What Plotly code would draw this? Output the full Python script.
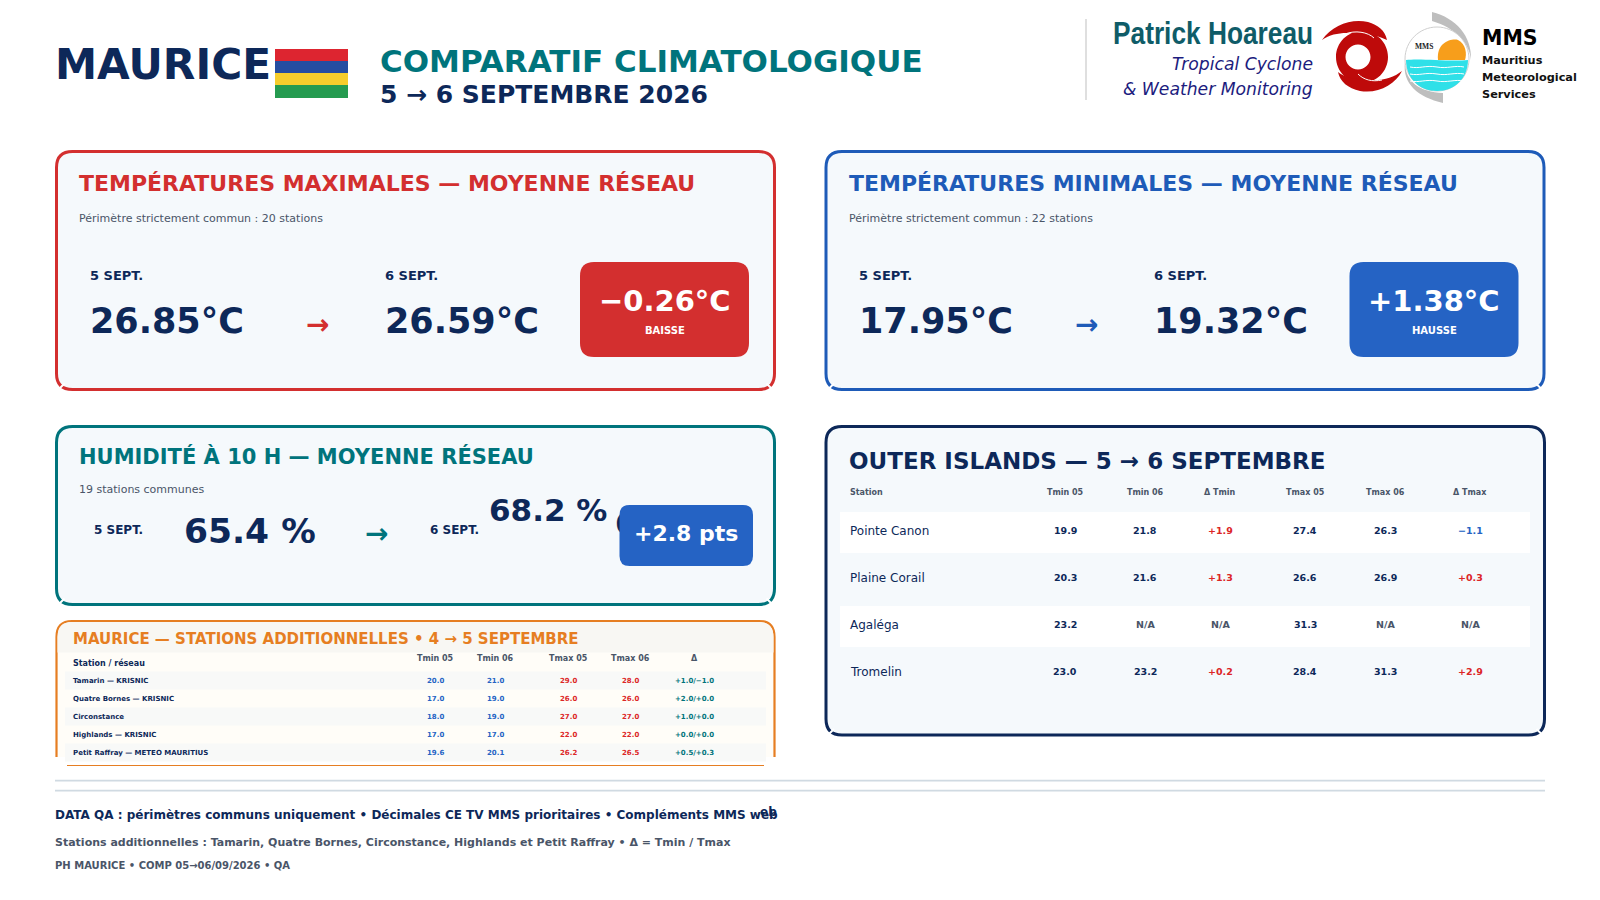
import plotly.graph_objects as go

NAVY = '#0D2859'
TEAL = '#00747C'
RED = '#D32F2F'
BLUE = '#1E5BB8'
BADGE_BLUE = '#2563C4'
ORANGE = '#E67E22'
GREY = '#4A5568'
CARD_BG = '#F5F9FC'
FONT = 'DejaVu Sans'

# header
flag_colors = ['#DD2530', '#254DA1', '#F6CD2C', '#259B50']

# network average cards
tmax_day5, tmax_day6, tmax_delta = '26.85°C', '26.59°C', '−0.26°C'
tmin_day5, tmin_day6, tmin_delta = '17.95°C', '19.32°C', '+1.38°C'
hum_day5, hum_day6, hum_delta = '65.4 %', '68.2 %', '+2.8 pts'

# outer islands table
outer_headers = ['Tmin 05', 'Tmin 06', 'Δ Tmin', 'Tmax 05', 'Tmax 06', 'Δ Tmax']
outer_stations = ['Pointe Canon', 'Plaine Corail', 'Agaléga', 'Tromelin']
outer_tmin05 = ['19.9', '20.3', '23.2', '23.0']
outer_tmin06 = ['21.8', '21.6', 'N/A', '23.2']
outer_dtmin = ['+1.9', '+1.3', 'N/A', '+0.2']
outer_tmax05 = ['27.4', '26.6', '31.3', '28.4']
outer_tmax06 = ['26.3', '26.9', 'N/A', '31.3']
outer_dtmax = ['−1.1', '+0.3', 'N/A', '+2.9']

# additional stations table
add_headers = ['Tmin 05', 'Tmin 06', 'Tmax 05', 'Tmax 06', 'Δ']
add_stations = ['Tamarin — KRISNIC', 'Quatre Bornes — KRISNIC', 'Circonstance',
                'Highlands — KRISNIC', 'Petit Raffray — METEO MAURITIUS']
add_tmin05 = ['20.0', '17.0', '18.0', '17.0', '19.6']
add_tmin06 = ['21.0', '19.0', '19.0', '17.0', '20.1']
add_tmax05 = ['29.0', '26.0', '27.0', '22.0', '26.2']
add_tmax06 = ['28.0', '26.0', '27.0', '22.0', '26.5']
add_delta = ['+1.0/−1.0', '+2.0/+0.0', '+1.0/+0.0', '+0.0/+0.0', '+0.5/+0.3']

fig = go.Figure()


def text(x, y, s, size, color=NAVY, bold=True, anchor='left', family=FONT, italic=False):
    if bold:
        s = '<b>' + s + '</b>'
    if italic:
        s = '<i>' + s + '</i>'
    fig.add_annotation(x=x, y=y, text=s, showarrow=False, xanchor=anchor, yanchor='middle',
                       borderpad=0, font=dict(family=family, size=size, color=color))


def rect(x0, y0, x1, y1, fill, layer='below'):
    fig.add_shape(type='rect', x0=x0, y0=y0, x1=x1, y1=y1, fillcolor=fill,
                  line_width=0, layer=layer)


def round_path(x0, y0, x1, y1, r):
    return (f'M {x0+r} {y0} L {x1-r} {y0} Q {x1} {y0} {x1} {y0+r} L {x1} {y1-r} '
            f'Q {x1} {y1} {x1-r} {y1} L {x0+r} {y1} Q {x0} {y1} {x0} {y1-r} '
            f'L {x0} {y0+r} Q {x0} {y0} {x0+r} {y0} Z')


def circle_path(cx, cy, r, flip=False):
    # four bezier quarters, flip reverses winding so it punches a hole
    k = 0.5523 * r
    s = -1 if flip else 1
    return (f'M {cx+r} {cy} '
            f'C {cx+r} {cy+s*k} {cx+k} {cy+s*r} {cx} {cy+s*r} '
            f'C {cx-k} {cy+s*r} {cx-r} {cy+s*k} {cx-r} {cy} '
            f'C {cx-r} {cy-s*k} {cx-k} {cy-s*r} {cx} {cy-s*r} '
            f'C {cx+k} {cy-s*r} {cx+r} {cy-s*k} {cx+r} {cy} Z')


def path(d, fill=None, line=None, width=0, layer='below'):
    fig.add_shape(type='path', path=d, fillcolor=fill or 'rgba(0,0,0,0)',
                  line=dict(color=line or 'rgba(0,0,0,0)', width=width), layer=layer)


def card(x0, y0, x1, y1, color, r=16):
    path(round_path(x0, y0, x1, y1, r), fill=CARD_BG, line=color, width=3)
    # the source has small breaks in the bottom corners
    for cx, sgn in [(x0 + 6, 1), (x1 - 6, -1)]:
        fig.add_shape(type='line', x0=cx - 4 * sgn, y0=y1 + 0, x1=cx + 2 * sgn, y1=y1 - 6,
                      line=dict(color='white', width=2), layer='below')


def badge(x0, y0, x1, y1, color, r=14):
    path(round_path(x0, y0, x1, y1, r), fill=color, layer='above')


def compare_card(x, color, badge_color, title, sub, v5, v6, delta, word):
    card(x, 151.5, x + 718, 389.5, color)
    text(x + 21.5, 183.5, title, 22, color)
    text(x + 21.5, 218, sub, 11, GREY, bold=False)
    text(x + 32, 275.5, '5 SEPT.', 13)
    text(x + 32, 321, v5, 35)
    text(x + 260.5, 324, '→', 28, color, anchor='center')
    text(x + 327, 275.5, '6 SEPT.', 13)
    text(x + 327, 321, v6, 35)
    badge(x + 523.5, 262, x + 692.5, 357, badge_color)
    text(x + 608, 300.5, delta, 29, 'white', anchor='center')
    text(x + 608, 330, word, 10, 'white', anchor='center')


# header
text(53.5, 64, 'MAURICE', 42.3)
stripe_y = [49, 61, 73, 85, 98]
for i, c in enumerate(flag_colors):
    rect(275, stripe_y[i], 348, stripe_y[i + 1], c)
text(379, 61, 'COMPARATIF CLIMATOLOGIQUE', 31, TEAL)
text(379, 94, '5 → 6 SEPTEMBRE 2026', 25)

# left logo block
fig.add_shape(type='line', x0=1086, y0=19, x1=1086, y1=100, line=dict(color='#D5D5D5', width=1.5), layer='below')
text(1213, 33, 'Patrick Hoareau', 31, '#0F5C68', anchor='center', family='Liberation Sans')
text(1314, 64, 'Tropical Cyclone', 17.2, '#1C1C7E', bold=False, anchor='right', italic=True)
text(1314, 89, '&amp; Weather Monitoring', 17.2, '#1C1C7E', bold=False, anchor='right', italic=True)

# cyclone mark
SWIRL = '#BE0A0A'
path(circle_path(1362, 57, 26) + ' ' + circle_path(1358, 57, 12.5, flip=True), fill=SWIRL)
path('M 1322 40 C 1332 25 1352 18 1368 22 C 1378 25 1385 30 1387 40 '
     'C 1378 36 1368 33 1358 34 C 1345 32 1332 33 1322 40 Z', fill=SWIRL)
path('M 1402 71 C 1395 85 1378 94 1360 91 C 1348 88 1340 82 1338 72 '
     'C 1345 78 1358 80 1365 79 C 1378 82 1392 79 1402 71 Z', fill=SWIRL)
path('M 1345 34 C 1355 30 1368 32 1374 38', line='white', width=1)
path('M 1358 74 C 1364 80 1372 82 1382 80', line='white', width=1)

# MMS mark
path('M 1432 12 C 1456 18 1472 36 1471 60 C 1470 44 1456 28 1432 21 Z', fill='#BEBEBE')
path('M 1405 62 C 1405 82 1420 92 1443 93 L 1443 103 C 1418 97 1402 84 1405 62 Z', fill='#BEBEBE')
path(circle_path(1437, 59, 32), fill='white', line='#CFCFCF', width=1)
path('M 1438 60 C 1436 42 1452 38 1458 40 C 1466 44 1467 54 1465 60 Z', fill='#F79E1B')
path('M 1406 60 C 1420 58 1450 62 1468 60 C 1468 78 1455 91 1437 91 C 1419 91 1406 78 1406 60 Z', fill='#2FE0E8')
for wy in [67, 74, 81]:
    path(f'M 1410 {wy} C 1420 {wy+2} 1425 {wy-2} 1437 {wy} C 1447 {wy+2} 1455 {wy-2} 1464 {wy}',
         line='white', width=1)
text(1414, 46, 'MMS', 7.5, '#222222', family='Liberation Serif')
text(1481, 38, 'MMS', 20.5, '#000000')
text(1481, 60, 'Mauritius', 11.3, '#111111')
text(1481, 77, 'Meteorological', 11.3, '#111111')
text(1481, 94, 'Services', 11.3, '#111111')

# top cards
compare_card(56.5, RED, RED, 'TEMPÉRATURES MAXIMALES — MOYENNE RÉSEAU',
             'Périmètre strictement commun : 20 stations', tmax_day5, tmax_day6, tmax_delta, 'BAISSE')
compare_card(826, BLUE, BADGE_BLUE, 'TEMPÉRATURES MINIMALES — MOYENNE RÉSEAU',
             'Périmètre strictement commun : 22 stations', tmin_day5, tmin_day6, tmin_delta, 'HAUSSE')

# humidity card
card(56.5, 426.5, 774.5, 604.5, TEAL)
text(77.5, 456, 'HUMIDITÉ À 10 H — MOYENNE RÉSEAU', 21, TEAL)
text(77.5, 489.5, '19 stations communes', 11, GREY, bold=False)
text(93, 529.5, '5 SEPT.', 12)
text(183, 531, hum_day5, 34.5)
text(376.5, 533, '→', 28, TEAL, anchor='center')
text(429, 529.5, '6 SEPT.', 12)
text(488, 510, hum_day6, 31)
# overflowing digit that sits behind the badge in the source
fig.add_trace(go.Scatter(x=[615], y=[526], mode='text', text=['<b>6</b>'], textposition='middle right',
                         textfont=dict(family=FONT, size=30, color=NAVY), hoverinfo='skip', showlegend=False))
badge(619.5, 505, 753, 566, BADGE_BLUE, r=10)
text(686, 533, hum_delta, 22, 'white', anchor='center')

# additional stations card
path('M 56.5 757 L 56.5 637 Q 56.5 621 72 621 L 759 621 Q 774.5 621 774.5 637 L 774.5 757', fill='#FFFDF8', line=ORANGE, width=2.2)
rect(57.5, 637, 773.5, 652.5, '#F8F7F3')
path('M 57.5 637 Q 57.5 622 72 622 L 759 622 Q 773.5 622 773.5 637 Z', fill='#F8F7F3')
rect(54, 757, 57.8, 768, 'white')
rect(773.4, 757, 777, 768, 'white')
text(72, 638.5, 'MAURICE — STATIONS ADDITIONNELLES • 4 → 5 SEPTEMBRE', 15, ORANGE)
text(72, 663, 'Station / réseau', 8, NAVY)
add_cols = [435.5, 495.5, 568.5, 630.5, 694.5]
for cx, h in zip(add_cols, add_headers):
    text(cx, 658, h, 8, GREY, anchor='center')
row_y = [680.5, 698.5, 716.5, 734.5, 752.5]
for i, y in enumerate(row_y):
    if i % 2 == 0:
        rect(65, y - 9, 766, y + 9, '#F8F9F8')
    text(72, y, add_stations[i], 7, NAVY)
    text(add_cols[0], y, add_tmin05[i], 7, BADGE_BLUE, anchor='center')
    text(add_cols[1], y, add_tmin06[i], 7, BADGE_BLUE, anchor='center')
    text(add_cols[2], y, add_tmax05[i], 7, '#DC2626', anchor='center')
    text(add_cols[3], y, add_tmax06[i], 7, '#DC2626', anchor='center')
    text(add_cols[4], y, add_delta[i], 7, TEAL, anchor='center')
fig.add_shape(type='line', x0=67, y0=765.5, x1=764, y1=765.5, line=dict(color=ORANGE, width=1.2), layer='below')

# outer islands card
card(826, 426.5, 1544.5, 735, NAVY)
text(848, 461, 'OUTER ISLANDS — 5 → 6 SEPTEMBRE', 23, NAVY)
text(849, 492, 'Station', 8, GREY)
outer_cols = [1065, 1145, 1220, 1305, 1385, 1470]
for cx, h in zip(outer_cols, outer_headers):
    text(cx, 492, h, 8, GREY, anchor='center')
outer_y = [530.5, 577.5, 624.5, 671.5]


def delta_color(v):
    if v == 'N/A':
        return GREY
    return BADGE_BLUE if v.startswith('−') else '#DC2626'


for i, y in enumerate(outer_y):
    if i % 2 == 0:
        rect(840, y - 18.5, 1530, y + 22.5, 'white')
    text(849, y, outer_stations[i], 12, NAVY, bold=False)
    cells = [outer_tmin05[i], outer_tmin06[i], outer_dtmin[i], outer_tmax05[i], outer_tmax06[i], outer_dtmax[i]]
    for j, v in enumerate(cells):
        c = delta_color(v) if j in (2, 5) else (GREY if v == 'N/A' else NAVY)
        text(outer_cols[j], y, v, 9.5, c, anchor='center')

# footer
for y in (780.7, 790.7):
    fig.add_shape(type='line', x0=55, y0=y, x1=1545, y1=y, line=dict(color='#D0DAE2', width=1.8), layer='below')
text(54, 814.7, 'DATA QA : périmètres communs uniquement • Décimales CE TV MMS prioritaires • Compléments MMS web', 12)
text(777.5, 812, 'eb', 12, anchor='right')
text(54, 842, 'Stations additionnelles : Tamarin, Quatre Bornes, Circonstance, Highlands et Petit Raffray • Δ = Tmin / Tmax', 11, GREY)
text(54, 865.5, 'PH MAURICE • COMP 05→06/09/2026 • QA', 10, GREY)

fig.update_xaxes(range=[0, 1600], visible=False, fixedrange=True)
fig.update_yaxes(range=[900, 0], visible=False, fixedrange=True)
fig.update_layout(width=1600, height=900, margin=dict(l=0, r=0, t=0, b=0),
                  paper_bgcolor='white', plot_bgcolor='rgba(0,0,0,0)', showlegend=False)
# narrow the logo wordmark, no condensed font is installed here
post = """
document.body.style.margin='0';document.body.style.overflow='hidden';
document.querySelectorAll('.annotation-text').forEach(function(t){
  if(t.textContent==='Patrick Hoareau'){
    t.setAttribute('textLength','200');t.setAttribute('lengthAdjust','spacingAndGlyphs');
  }
});
"""
fig.write_html('out.html', config=dict(displayModeBar=False), post_script=post)
